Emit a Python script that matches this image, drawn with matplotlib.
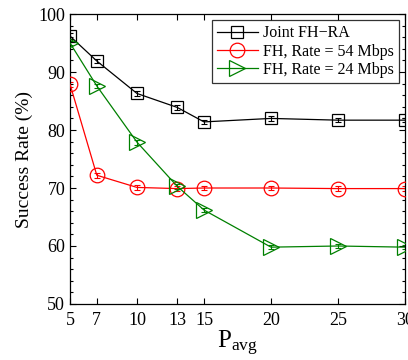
import matplotlib
matplotlib.use("Agg")
import matplotlib.pyplot as plt
from matplotlib.ticker import MultipleLocator

plt.rcParams['font.family'] = ['Liberation Serif', 'DejaVu Serif']
plt.rcParams['mathtext.fontset'] = 'custom'
plt.rcParams['mathtext.rm'] = 'Liberation Serif'

p_avg = [5, 7, 10, 13, 15, 20, 25, 30]
joint = [96.2, 91.9, 86.3, 83.9, 81.4, 82.0, 81.7, 81.7]
fh54 = [87.9, 72.2, 70.1, 69.9, 70.0, 70.0, 69.9, 69.9]
fh24 = [95.0, 87.6, 77.9, 70.3, 66.2, 59.8, 60.0, 59.8]
err_joint = [0.5, 0.4, 0.4, 0.4, 0.4, 0.4, 0.4, 0.4]
err_fh54 = [0.4, 0.4, 0.4, 0.4, 0.4, 0.4, 0.4, 0.4]
err_fh24 = [0.4, 0.4, 0.4, 0.4, 0.4, 0.3, 0.4, 0.4]
labels = ['Joint FH\u2212RA', 'FH, Rate = 54 Mbps', 'FH, Rate = 24 Mbps']

fig = plt.figure(figsize=(4.08, 3.6), dpi=100)
ax = fig.add_axes([0.1716, 0.1556, 0.821, 0.8054])

green = '#008000'
series = [
    (joint, err_joint, 'k', 's', 9, labels[0]),
    (fh54, err_fh54, '#ff0000', 'o', 10.5, labels[1]),
    (fh24, err_fh24, green, '>', 11, labels[2]),
]
handles = []
for y, e, c, m, ms, lab in series:
    ax.errorbar(p_avg, y, yerr=e, color=c, lw=0.8, capsize=2.5, elinewidth=0.8,
                capthick=0.8, fmt='none', zorder=2)
    h, = ax.plot(p_avg, y, color=c, lw=0.9, marker=m, ms=ms, mfc='none',
                 mec=c, mew=0.9, label=lab, zorder=3)
    handles.append(h)

ax.set_xlim(5, 30)
ax.set_ylim(50, 100)
ax.set_xticks(p_avg)
ax.set_yticks([50, 60, 70, 80, 90, 100])
ax.yaxis.set_minor_locator(MultipleLocator(2))
ax.tick_params(which='both', direction='in', top=True, right=True, labelsize=13, width=0.8)
ax.tick_params(which='major', length=4)
ax.tick_params(which='minor', length=2)
ax.tick_params(axis='x', pad=6)
for s in ax.spines.values():
    s.set_linewidth(0.9)

ax.set_ylabel('Success Rate (%)', fontsize=14, labelpad=4)
ax.set_xlabel(r'$\mathregular{P_{avg}}$', fontsize=18, labelpad=0)

leg = ax.legend(handles=handles, loc='upper right', fontsize=11.5, frameon=True,
                fancybox=False, edgecolor='k', borderpad=0.3, labelspacing=0.15,
                handlelength=2.6, handletextpad=0.3, borderaxespad=0.4)
leg.get_frame().set_linewidth(0.9)

fig.savefig('out.png', dpi=100)
